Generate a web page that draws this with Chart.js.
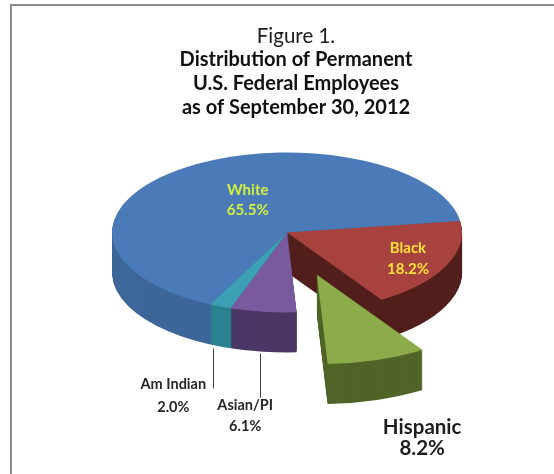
<!DOCTYPE html>
<html>
<head>
<meta charset="utf-8">
<script src="https://cdn.jsdelivr.net/npm/chart.js@4"></script>
<style>
  html, body { margin: 0; padding: 0; background: #fff; }
  #wrap { position: relative; width: 554px; height: 474px; overflow: hidden; }
  #frame { position: absolute; left: 10px; top: 4px; right: 0; bottom: 0;
           border-top: 2px solid #8c8c8c; border-left: 2px solid #8c8c8c; }
  canvas { position: absolute; left: 0; top: 0; }
</style>
</head>
<body>
<div id="wrap">
  <div id="frame"></div>
  <canvas id="pie" width="554" height="474"></canvas>
</div>
<script>
const groups = ['White', 'Black', 'Hispanic', 'Asian/PI', 'Am Indian']
const shares = [65.5, 18.2, 8.2, 6.1, 2.0]

const figureTitle = 'Figure 1.'
const figureSubtitle = ['Distribution of Permanent', 'U.S. Federal Employees', 'as of September 30, 2012']

const topColors  = ['#4a7ab8', '#a8423f', '#8cab4a', '#7a5a9e', '#3ca0b4']
const sideColors = ['#3d6699', '#521f1c', '#506428', '#4b3766', '#2b8291']

const FONT = 'Lato, "Open Sans", sans-serif'
const TILT = 0.457     // squash of the pie top
const DEPTH = 40       // wall height in px
const SHIFT_X = -9     // pie sits a bit left of the titles
// pulled-out slice: distance from the centre and a little extra size since it is nearer
const EXPLODE = { 'Hispanic': { dist: 97, grow: 1.12 } }

// label spots: r = fraction of radius along the slice middle, wall = measure from the bottom edge
const labelPlacement = {
  'White':     { r: 0.42, dx: 4, dy: -15, gap: 20, size: 15, color: '#d5f03c' },
  'Black':     { r: 0.76, dx: 0, dy: -10, gap: 21, size: 15, color: '#ffe13a' },
  'Hispanic':  { r: 1, wall: true, dx: 45, dy: 27, gap: 21, size: 20.5, color: '#1e1e1e' },
  'Asian/PI':  { r: 1, wall: true, dx: -18, dy: 54, gap: 21, size: 14.5, color: '#262626', lineDx: -3, lead: 46 },
  'Am Indian': { r: 1, wall: true, dx: -47, dy: 38, gap: 23, size: 14.5, color: '#262626', lineDx: -7, lead: 42 }
}

const pie3d = {
  id: 'pie3d',
  beforeDatasetsDraw(chart) {
    const ctx = chart.ctx
    const arcs = chart.getDatasetMeta(0).data
    const cx = arcs[0].x
    const cy = arcs[0].y

    const pull = arcs.map((arc, i) => {
      const e = EXPLODE[groups[i]] || { dist: 0, grow: 1 }
      const mid = (arc.startAngle + arc.endAngle) / 2
      return { x: Math.cos(mid) * e.dist, y: Math.sin(mid) * e.dist, g: e.grow }
    })

    const face = (arc, i, k, color) => {
      ctx.save()
      ctx.translate(cx + SHIFT_X, cy + k)
      ctx.scale(1, TILT)
      ctx.translate(pull[i].x, pull[i].y)
      ctx.scale(pull[i].g, pull[i].g)
      ctx.translate(-cx, -cy)
      const el = Object.create(arc)
      el.options = Object.assign({}, arc.options, { backgroundColor: color, borderWidth: 0 })
      el.draw(ctx)
      ctx.restore()
    }

    // wall first, one pixel layer at a time, then the top
    for (let k = DEPTH; k > 0; k--) {
      arcs.forEach((arc, i) => face(arc, i, k, sideColors[i]))
    }
    arcs.forEach((arc, i) => face(arc, i, 0, topColors[i]))

    const project = (arc, i, r, k) => {
      const mid = (arc.startAngle + arc.endAngle) / 2
      const p = pull[i]
      return {
        x: cx + SHIFT_X + p.x + Math.cos(mid) * r * p.g,
        y: cy + (p.y + Math.sin(mid) * r * p.g) * TILT + k
      }
    }

    groups.forEach((g, i) => {
      const p = labelPlacement[g]
      const arc = arcs[i]
      const a = project(arc, i, arc.outerRadius * p.r, p.wall ? DEPTH : 0)
      if (p.lead) {
        ctx.save()
        ctx.strokeStyle = '#3c3c3c'
        ctx.lineWidth = 1
        ctx.beginPath()
        ctx.moveTo(Math.round(a.x + p.lineDx) + 0.5, a.y + 2)
        ctx.lineTo(Math.round(a.x + p.lineDx) + 0.5, a.y + p.lead)
        ctx.stroke()
        ctx.restore()
      }
      ctx.save()
      ctx.font = `bold ${p.size}px ${FONT}`
      ctx.fillStyle = p.color
      ctx.textAlign = 'center'
      ctx.textBaseline = 'middle'
      const lines = [g, shares[i].toFixed(1) + '%']
      lines.forEach((t, j) => ctx.fillText(t, a.x + p.dx, a.y + p.dy + j * p.gap))
      ctx.restore()
    })
    return false
  }
}

new Chart(document.getElementById('pie'), {
  type: 'pie',
  data: {
    labels: groups,
    datasets: [{
      data: shares,
      backgroundColor: topColors,
      borderWidth: 0,
      clip: false
    }]
  },
  options: {
    responsive: false,
    animation: false,
    events: [],
    rotation: 206,
    radius: 175,
    layout: { padding: { top: 11, left: 38, right: 0, bottom: 129 } },
    plugins: {
      legend: { display: false },
      tooltip: { enabled: false },
      title: {
        display: true,
        text: figureTitle,
        color: '#1c1c1c',
        font: { family: FONT, size: 20.5, weight: 'normal', lineHeight: '24px' },
        padding: { top: 13, bottom: 0 }
      },
      subtitle: {
        display: true,
        text: figureSubtitle,
        color: '#111',
        font: { family: FONT, size: 20, weight: 'bold', lineHeight: '24px' },
        padding: { top: 0, bottom: 0 }
      }
    }
  },
  plugins: [pie3d]
})
</script>
</body>
</html>
